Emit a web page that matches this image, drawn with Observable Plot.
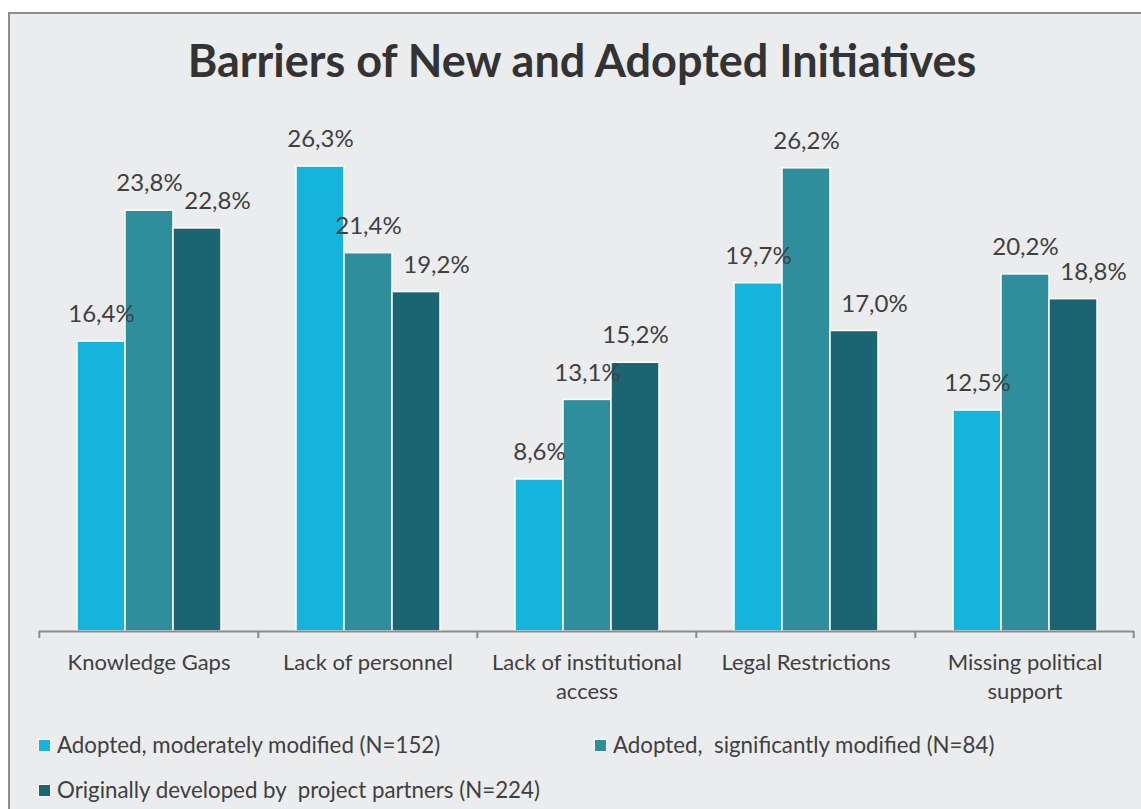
<!DOCTYPE html>
<html><head><meta charset="utf-8">
<script src="https://cdn.jsdelivr.net/npm/d3@7"></script>
<script src="https://cdn.jsdelivr.net/npm/@observablehq/plot@0.6"></script>
<style>
body{margin:0;background:#fff;font-family:Lato,"Open Sans",sans-serif;color:#404040;width:1141px;height:809px;overflow:hidden;position:relative;}
#frame{position:absolute;left:8px;top:12px;width:1160px;height:830px;border:2px solid #8d8d8d;background:#ebecee;box-sizing:border-box;}
#title{position:absolute;left:8px;width:1148px;top:38px;text-align:center;font-weight:700;font-size:45px;line-height:1;color:#333;}
#chart{position:absolute;left:0;top:110px;}
.leg{position:absolute;font-size:22.3px;line-height:22px;height:22px;display:flex;align-items:center;white-space:pre;color:#404040;}
.sw{width:11px;height:11px;border:1px solid #fff;margin-right:6px;flex:none;}
</style></head>
<body>
<div id="frame"></div>
<div id="title">Barriers of New and Adopted Initiatives</div>
<div id="chart"></div>
<div id="legend"></div>
<script>
const categories = ["Knowledge Gaps","Lack of personnel","Lack of institutional access","Legal Restrictions","Missing political support"];
const categoryLabels = ["Knowledge Gaps","Lack of personnel","Lack of institutional\naccess","Legal Restrictions","Missing political\nsupport"];
const series = ["Adopted, moderately modified (N=152)","Adopted,  significantly modified (N=84)","Originally developed by  project partners (N=224)"];
const moderately = [16.4, 26.3, 8.6, 19.7, 12.5];
const significantly = [23.8, 21.4, 13.1, 26.2, 20.2];
const original = [22.8, 19.2, 15.2, 17.0, 18.8];
const colors = ["#14b4dc","#2f8e9b","#1b6572"];

const seriesValues = [moderately, significantly, original];
const rows = categories.flatMap((c, i) => seriesValues.map((arr, j) => ({
  category: c, series: series[j], value: arr[i], s: j,
  nudge: j === 2 && original[i] < significantly[i]
})));
const fmt = d => d.value.toFixed(1).replace(".", ",") + "%";

const W = 1141, H = 699, ML = 38, MR = 6, MT = 26, MB = 178;
const fw = (W - ML - MR) / categories.length;
const axisColor = "#8c8c8c";
const tickDepth = -0.4; // tick length below the baseline, in y units

const plot = Plot.plot({
  width: W, height: H, marginLeft: ML, marginRight: MR, marginTop: MT, marginBottom: MB,
  style: {background: "transparent", fontFamily: "Lato, 'Open Sans', sans-serif", color: "#404040", overflow: "visible"},
  fx: {domain: categories, padding: 0, axis: null},
  x: {domain: series, paddingInner: 0, paddingOuter: 0.77, axis: null},
  y: {domain: [0, 28], axis: null},
  color: {domain: series, range: colors},
  marks: [
    Plot.barY(rows, {fx: "category", x: "series", y: "value", fill: "series", stroke: "white", strokeWidth: 1.5}),
    Plot.ruleY([0], {stroke: axisColor, strokeWidth: 2}),
    Plot.ruleX(categories, {fx: d => d, x: null, y1: 0, y2: tickDepth, dx: -fw / 2, stroke: axisColor, strokeWidth: 2}),
    Plot.ruleX(categories.slice(-1), {fx: d => d, x: null, y1: 0, y2: tickDepth, dx: fw / 2 - 1, stroke: axisColor, strokeWidth: 2}),
    Plot.text(rows, {filter: d => !d.nudge, fx: "category", x: "series", y: "value", text: fmt, dy: -27, fontSize: 24, fill: "#404040"}),
    Plot.text(rows, {filter: d => d.nudge, fx: "category", x: "series", y: "value", text: fmt, dy: -27, dx: 20, fontSize: 24, fill: "#404040"}),
    Plot.text(categories, {fx: d => d, text: (d, i) => categoryLabels[i], frameAnchor: "bottom", lineAnchor: "top", dy: 18, fontSize: 22, lineHeight: 1.32, fill: "#404040"})
  ]
});
document.getElementById("chart").appendChild(plot);

const legendPos = [[38, 734], [594, 734], [38, 779]];
const leg = document.getElementById("legend");
series.forEach((s, i) => {
  const d = document.createElement("div");
  d.className = "leg";
  d.style.left = legendPos[i][0] + "px";
  d.style.top = legendPos[i][1] + "px";
  d.innerHTML = `<span class="sw" style="background:${colors[i]}"></span><span></span>`;
  d.lastChild.textContent = s;
  leg.appendChild(d);
});
</script>
</body></html>
